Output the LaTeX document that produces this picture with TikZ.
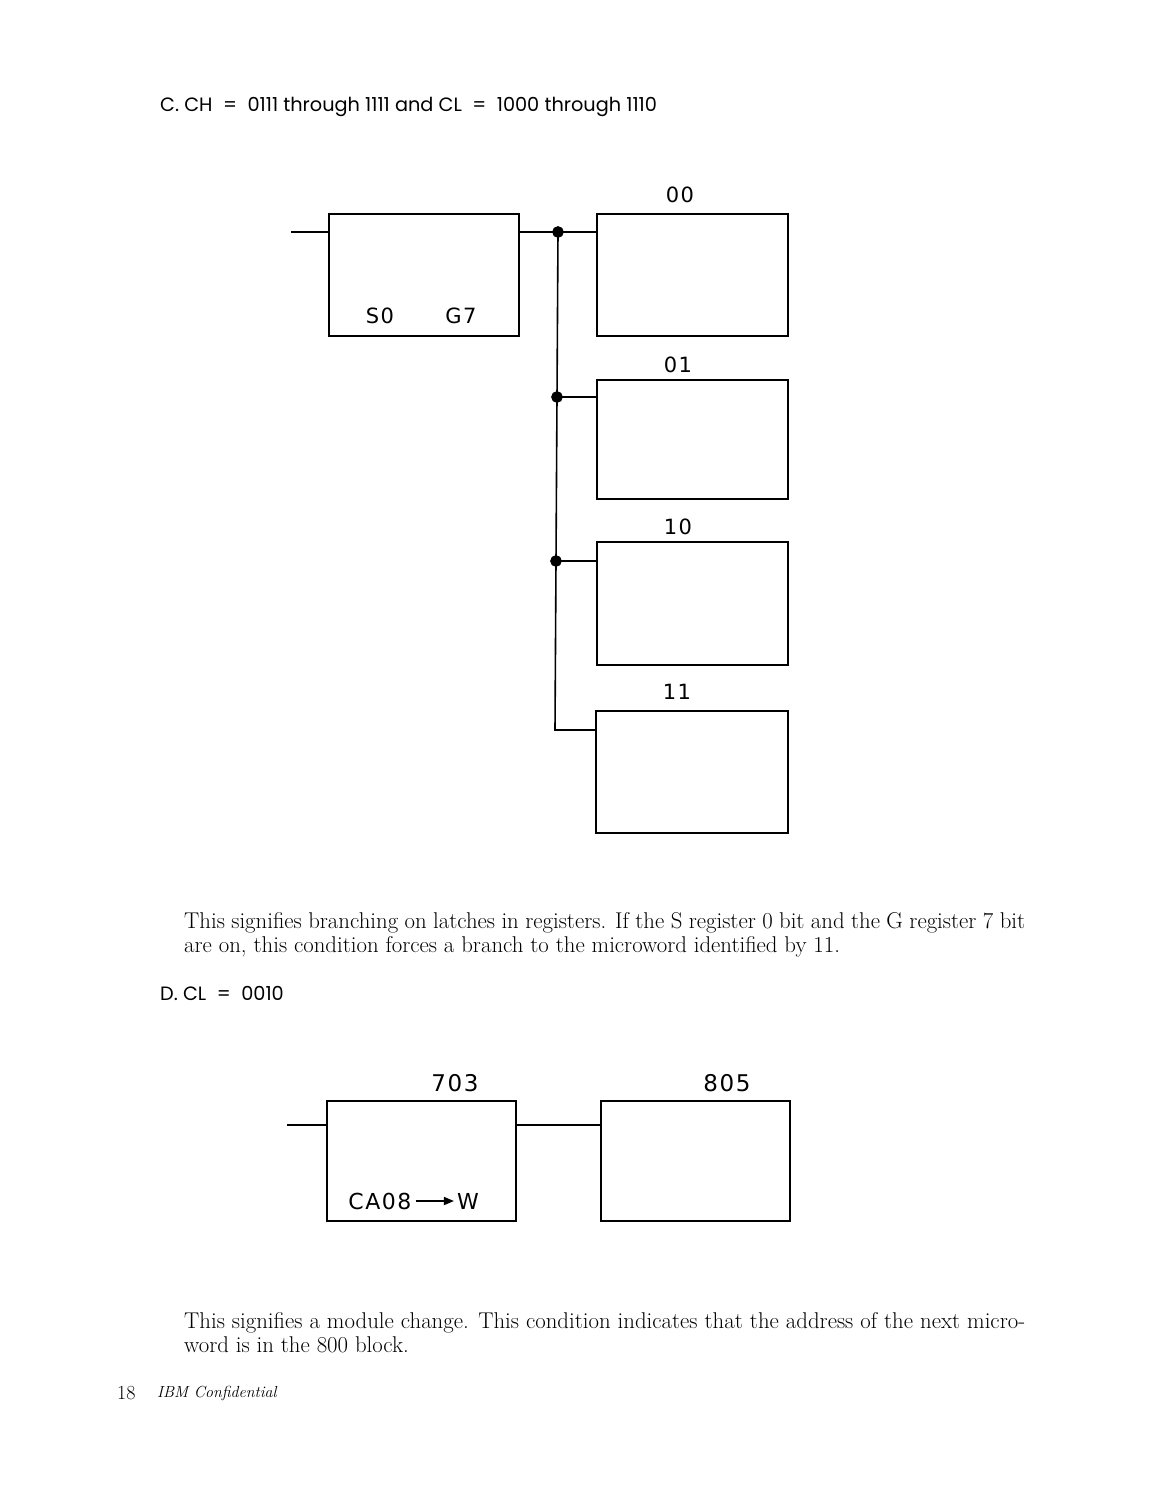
\documentclass[tikz,border=0pt]{standalone}
\usepackage{fontspec}
\newfontfamily\headfont{Poppins}
\newfontfamily\labfont[LetterSpace=7]{DejaVu Sans}
\usetikzlibrary{arrows.meta}
\tikzset{
  blk/.style={draw, line width=1.6pt, anchor=north west, inner sep=0pt, outer sep=0pt},
  wire/.style={line width=1.6pt},
  lab/.style={font=\labfont\fontsize{21}{24}\selectfont, inner sep=0pt},
  big/.style={font=\labfont\fontsize{23}{26}\selectfont, inner sep=0pt},
  head/.style={font=\headfont\fontsize{19.3}{22}\selectfont, anchor=base west, inner sep=0pt},
  body/.style={font=\fontsize{22.8}{24}\selectfont, anchor=base west, inner sep=0pt},
  dot/.style={circle, fill=black, draw=black, line width=0.6pt, inner sep=0pt, minimum size=11pt}
}
\begin{document}
\begin{tikzpicture}[x=1pt,y=-1pt]
\useasboundingbox[fill=white] (0,0) rectangle (1156,1497);

% heading C
\node[head] (hc) at (160,111) {C. CH \;=\; 0111 through 1111 and CL \;=\; 1000 through 1110};

% top diagram
\node[blk, minimum width=190pt, minimum height=122pt] (A) at (329,214) {};
\node[blk, minimum width=191pt, minimum height=122pt] (B0) at (597,214) {};
\node[blk, minimum width=191pt, minimum height=119pt] (B1) at (597,380) {};
\node[blk, minimum width=191pt, minimum height=123pt] (B2) at (597,542) {};
\node[blk, minimum width=192pt, minimum height=122pt] (B3) at (596,711) {};

\node[lab] (l0) at (680,195) {00};
\node[lab] (l1) at (678,365) {01};
\node[lab] (l2) at (678,527) {10};
\node[lab] (l3) at (677,692) {11};
\node[lab] (s0) at (380,316) {S0};
\node[lab] (g7) at (461,316) {G7};

\coordinate (inA) at (291,232);
\coordinate (j0) at (558,232);
\coordinate (j1) at (557,397);
\coordinate (j2) at (556,561);
\coordinate (jend) at (555,730);

\draw[wire] (inA) -- (inA -| A.west);
\draw[wire] (A.east |- j0) -- (j0) -- (j0 -| B0.west);
\draw[wire] (j0) -- (j1) -- (j2) -- (jend) -- (jend -| B3.west);
\draw[wire] (j1) -- (j1 -| B1.west);
\draw[wire] (j2) -- (j2 -| B2.west);
\node[dot] (d0) at (j0) {};
\node[dot] (d1) at (j1) {};
\node[dot] (d2) at (j2) {};

% text 1
\node[body] (t1) at (184,928) {\hbox to 841pt{This signifies branching on latches in registers. If the S register 0 bit and the G register 7 bit}};
\node[body] (t2) at (184,952) {are on, this condition forces a branch to the microword identified by 11.};

% heading D
\node[head] (hd) at (160,1000) {D. CL \;=\; 0010};

% bottom diagram
\node[blk, minimum width=189pt, minimum height=120pt] (C) at (327,1101) {};
\node[blk, minimum width=189pt, minimum height=120pt] (D) at (601,1101) {};
\node[big] (l703) at (455,1083) {703};
\node[big] (l805) at (727,1083) {805};
\coordinate (inC) at (287,1125);
\draw[wire] (inC) -- (inC -| C.west);
\draw[wire] (C.east |- inC) -- (inC -| D.west);
\node[lab, font=\labfont\fontsize{22}{24}\selectfont] (ca) at (380,1201) {CA08};
\node[lab, font=\labfont\fontsize{22}{24}\selectfont] (w) at (468,1201) {W};
\draw[line width=1.6pt, -{Triangle[length=10pt,width=8pt]}] ([xshift=4pt]ca.east) -- ([xshift=-3pt]w.west);

% text 2
\node[body] (t3) at (184,1328) {\hbox to 841pt{This signifies a module change. This condition indicates that the address of the next micro-}};
\node[body] (t4) at (184,1352) {word is in the 800 block.};

% footer
\node[body, font=\fontsize{20}{24}\selectfont] (pg) at (117,1399) {18};
\node[body, font=\itshape\fontsize{16}{20}\selectfont] (conf) at (157,1397) {IBM Confidential};
\end{tikzpicture}
\end{document}
